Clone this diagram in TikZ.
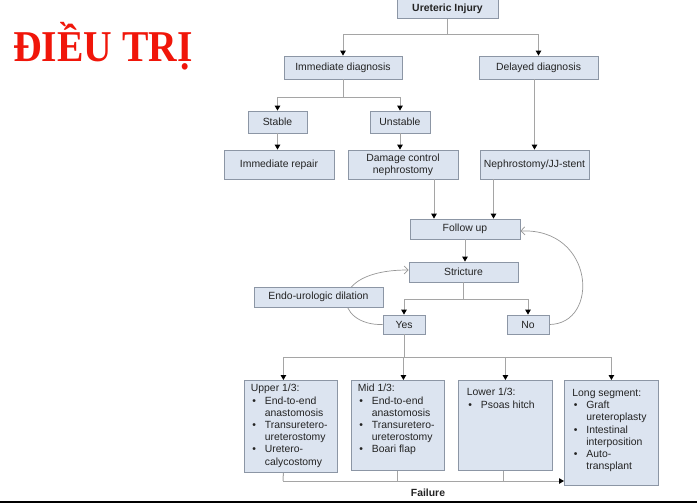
\documentclass[tikz,border=0pt]{standalone}
\usepackage{fontspec}
\setmainfont{Liberation Sans}
\newfontfamily\titlefont{Liberation Serif}
\usetikzlibrary{arrows.meta, backgrounds}
\definecolor{boxfill}{RGB}{220,228,240}
\definecolor{boxline}{RGB}{140,150,165}
\definecolor{linkgray}{RGB}{165,165,165}
\definecolor{loopgray}{RGB}{150,150,150}
\definecolor{textdark}{RGB}{35,35,35}
\definecolor{titlered}{RGB}{240,22,10}
\newcommand{\bul}{\makebox[14pt][l]{\hspace{1.5pt}\textbullet}}
\newcommand{\ind}{\hspace*{14pt}}
\tikzset{
  box/.style={draw=boxline, fill=boxfill, line width=0.8pt, text=textdark, inner sep=2pt, align=center, font=\fontsize{10.4}{12.2}\selectfont},
  listbox/.style={box, anchor=north west, align=left, inner xsep=6.5pt},
  link/.style={draw=linkgray, line width=1pt},
  arrow/.style={link, -{Triangle[length=5pt, width=5.5pt, color=black]}},
  loopback/.style={draw=loopgray, line width=0.7pt, -{Straight Barb[length=4pt, width=8pt]}},
}

\begin{document}
\begin{tikzpicture}[x=1pt, y=-1pt]
      \useasboundingbox (0,0) rectangle (697,503);
      \node[font=\titlefont\bfseries\fontsize{44}{44}\selectfont, text=titlered, anchor=base west, inner sep=0pt] (title) at (13,62) {\scalebox{0.9}[1]{ĐIỀU TRỊ}};

      % top part
      \node[box, minimum width=101, minimum height=19, font=\fontsize{10.4}{12.2}\selectfont\bfseries] at (447.5,9) (injury) {Ureteric Injury};
      \node[box, minimum width=118, minimum height=23] at (343,67.5) (immdiag) {Immediate diagnosis};
      \node[box, minimum width=119, minimum height=23] at (538.5,67.5) (deldiag) {Delayed diagnosis};
      \node[box, minimum width=59, minimum height=22] at (277.5,122) (stable) {Stable};
      \node[box, minimum width=60, minimum height=22] at (400,122) (unstable) {Unstable};
      \node[box, minimum width=110, minimum height=29] at (279,164.5) (repair) {Immediate repair};
      \node[box, minimum width=110, minimum height=29] at (403,164.5) (dmg) {Damage control\\nephrostomy};
      \node[box, minimum width=109, minimum height=29] at (534.5,164.5) (neph) {Nephrostomy/JJ-stent};

      % follow up and stricture
      \node[box, minimum width=110, minimum height=20] at (465,229) (follow) {Follow up};
      \node[box, minimum width=109, minimum height=20] at (463.5,272) (stricture) {Stricture};
      \node[box, minimum width=129, minimum height=20] at (318.5,297) (endo) {Endo-urologic dilation};
      \node[box, minimum width=42, minimum height=19] at (404,324.5) (yes) {Yes};
      \node[box, minimum width=42, minimum height=19] at (528,324.5) (no) {No};

      % repair options
      \node[listbox, inner ysep=4pt] at (244,380) (upper) {\parbox[c][84pt][t]{80pt}{Upper 1/3:\\\bul End-to-end\\\ind anastomosis\\\bul Transuretero-\\\ind ureterostomy\\\bul Uretero-\\\ind calycostomy}};
      \node[listbox, inner ysep=4pt] at (351,380) (mid) {\parbox[c][82pt][t]{80pt}{Mid 1/3:\\\bul End-to-end\\\ind anastomosis\\\bul Transuretero-\\\ind ureterostomy\\\bul Boari flap}};
      \node[listbox, inner ysep=8pt, inner xsep=8.5pt] at (458,380) (lower) {\parbox[c][74pt][t]{77pt}{Lower 1/3:\\\bul Psoas hitch}};
      \node[listbox, inner ysep=9pt, inner xsep=8pt] at (564,380) (long) {\parbox[c][87pt][t]{78pt}{Long segment:\\\bul Graft\\\ind ureteroplasty\\\bul Intestinal\\\ind interposition\\\bul Auto-\\\ind transplant}};
      \node[font=\fontsize{10.4}{12.2}\selectfont\bfseries, text=textdark, inner sep=1pt] at (428,493) (failure) {Failure};

      \coordinate (injsplit) at (447.5,35);
      \draw[link] (injury.south) -- (injsplit);
      \draw[arrow] (injsplit) -| (immdiag.north);
      \draw[arrow] (injsplit) -| (deldiag.north);

      \coordinate (immsplit) at (343,98);
      \draw[link] (immdiag.south) -- (immsplit);
      \draw[arrow] (immsplit) -| (stable.north);
      \draw[arrow] (immsplit) -| (unstable.north);
      \draw[arrow] (stable.south) -- (stable.south |- repair.north);
      \draw[arrow] (unstable.south) -- (unstable.south |- dmg.north);
      \draw[arrow] (neph.north |- deldiag.south) -- (neph.north);

      \draw[arrow] ([xshift=31]dmg.south) -- ([xshift=31]dmg.south |- follow.north);
      \draw[arrow] ([xshift=-41]neph.south) -- ([xshift=-41]neph.south |- follow.north);
      \draw[arrow] (follow.south) -- (follow.south |- stricture.north);

      \coordinate (strsplit) at (463.5,299);
      \draw[link] (stricture.south) -- (strsplit);
      \draw[arrow] (strsplit) -| (yes.north);
      \draw[arrow] (strsplit) -| (no.north);

      \begin{scope}[on background layer]
        \draw[loopback] (yes.west) .. controls (335,326) and (325,270) .. ([yshift=2]stricture.west);
      \end{scope}
      \draw[loopback] (no.east) .. controls (600,324) and (595,228) .. ([yshift=-2]follow.east);

      \coordinate (yessplit) at (404,357);
      \draw[link] (yes.south) -- (yessplit);
      \draw[arrow] (yessplit) -| ([xshift=-7.5]upper.north);
      \draw[arrow] (yessplit) -| ([xshift=5.5]mid.north);
      \draw[arrow] (yessplit) -| (lower.north);
      \draw[arrow] (yessplit) -| (long.north);

      % failure
      \coordinate (failjoin) at (283,481);
      \draw[link] ([xshift=-7.5]upper.south) -- (failjoin);
      \draw[link] (mid.south) -- (mid.south |- failjoin);
      \draw[link] ([xshift=-2]lower.south) -- ([xshift=-2]lower.south |- failjoin);
      \draw[arrow] (failjoin) -- (failjoin -| long.west);

      \fill[black] (0,501) rectangle (697,503);
\end{tikzpicture}
\end{document}
